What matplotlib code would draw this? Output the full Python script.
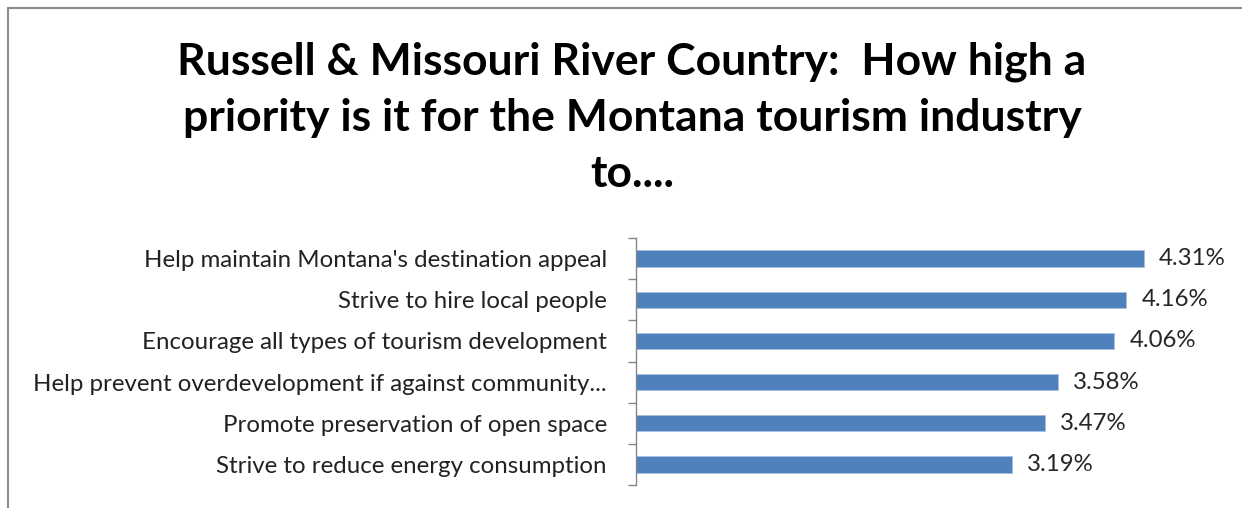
import matplotlib
matplotlib.use("Agg")
import matplotlib.pyplot as plt
from matplotlib.patches import Rectangle

# survey items, top to bottom, and mean priority scores
items = [
    "Help maintain Montana's destination appeal",
    "Strive to hire local people",
    "Encourage all types of tourism development",
    "Help prevent overdevelopment if against community...",
    "Promote preservation of open space",
    "Strive to reduce energy consumption",
]
scores = [4.31, 4.16, 4.06, 3.58, 3.47, 3.19]

title_lines = [
    "Russell & Missouri River Country:  How high a",
    "priority is it for the Montana tourism industry",
    "to....",
]

plt.rcParams['font.family'] = ['Lato', 'DejaVu Sans']

W, H = 1242, 508
fig = plt.figure(figsize=(W / 100, H / 100), dpi=100)
fig.patch.set_facecolor("white")

# outer chart frame (runs off the right and bottom edges)
fig.patches.append(Rectangle((8 / W, -0.1), 1.2, 1.1 - 8 / H, transform=fig.transFigure,
                             fill=False, edgecolor="#8c8c8c", linewidth=1.5))

# title, one line at a time on fixed baselines
for line, base in zip(title_lines, [75, 131, 187]):
    fig.text(632 / W, 1 - base / H, line, ha="center", va="baseline", fontsize=32,
             fontweight="bold", color="black")

ax = fig.add_axes([636 / W, 1 - 485 / H, 589 / W, 247 / H])
ypos = list(range(len(items)))
ax.barh(ypos, scores, height=0.4, color="#4f81bd", edgecolor="#a7c0de", linewidth=0.6)
ax.set_xlim(0, 5)
ax.set_ylim(len(items) - 0.5, -0.5)

for y, v in zip(ypos, scores):
    ax.text(v + 0.13, y, f"{v:.2f}%", va="center", ha="left", fontsize=17.3, color="#262626")

for s in ["top", "right", "bottom"]:
    ax.spines[s].set_visible(False)
ax.spines["left"].set_color("#868686")
ax.spines["left"].set_linewidth(1.0)
ax.set_xticks([])
ax.set_yticks(ypos)
ax.set_yticklabels(items, fontsize=17.3, color="#222222")
ax.tick_params(axis="y", which="major", length=0, pad=21)
ax.set_yticks([i - 0.5 for i in range(len(items) + 1)], minor=True)
ax.tick_params(axis="y", which="minor", length=6, color="#868686", width=1.0)

fig.savefig("out.png", dpi=100, facecolor="white")
